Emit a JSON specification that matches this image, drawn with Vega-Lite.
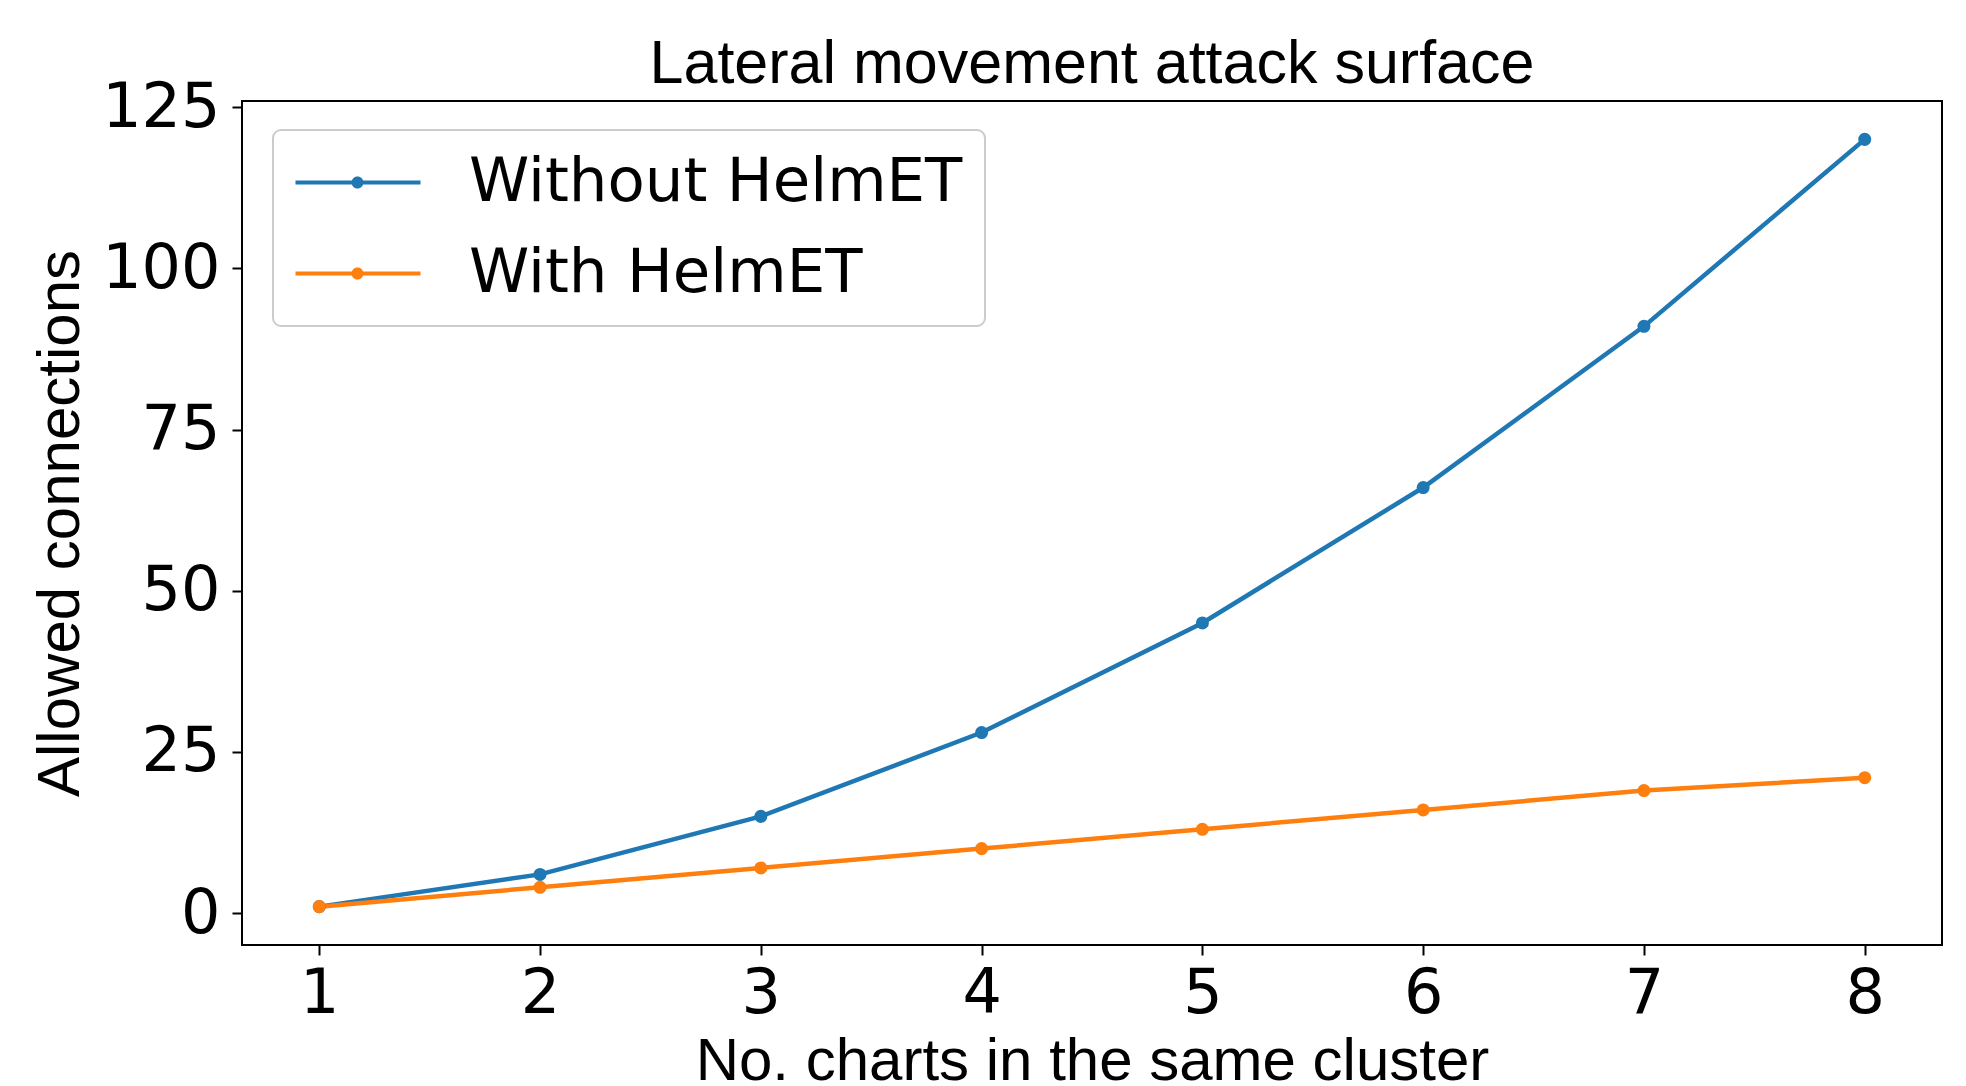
{
  "$schema": "https://vega.github.io/schema/vega-lite/v6.json",
  "autosize": {"type": "none"},
  "padding": {"left": 242, "top": 101, "right": 24, "bottom": 141},
  "width": 1700,
  "height": 844,
  "background": "white",
  "title": {
    "text": "Lateral movement attack surface",
    "font": "Liberation Sans",
    "fontSize": 61,
    "fontWeight": "normal",
    "color": "black",
    "anchor": "middle",
    "offset": -20
  },
  "config": {
    "view": {"stroke": "black", "strokeWidth": 2},
    "axis": {
      "domain": false,
      "grid": false,
      "tickColor": "black",
      "tickWidth": 2,
      "tickSize": 10,
      "labelFont": "DejaVu Sans",
      "labelFontSize": 62,
      "labelColor": "black",
      "titleFont": "Liberation Sans",
      "titleFontSize": 60,
      "titleFontWeight": "normal",
      "titleColor": "black"
    },
    "legend": {
      "strokeColor": "#cccccc",
      "strokeWidth": 2,
      "fillColor": "white",
      "cornerRadius": 8,
      "padding": 22
    }
  },
  "data": {
    "values": [
      {"n": 1, "series": "Without HelmET", "value": 1},
      {"n": 2, "series": "Without HelmET", "value": 6},
      {"n": 3, "series": "Without HelmET", "value": 15},
      {"n": 4, "series": "Without HelmET", "value": 28},
      {"n": 5, "series": "Without HelmET", "value": 45},
      {"n": 6, "series": "Without HelmET", "value": 66},
      {"n": 7, "series": "Without HelmET", "value": 91},
      {"n": 8, "series": "Without HelmET", "value": 120},
      {"n": 1, "series": "With HelmET", "value": 1},
      {"n": 2, "series": "With HelmET", "value": 4},
      {"n": 3, "series": "With HelmET", "value": 7},
      {"n": 4, "series": "With HelmET", "value": 10},
      {"n": 5, "series": "With HelmET", "value": 13},
      {"n": 6, "series": "With HelmET", "value": 16},
      {"n": 7, "series": "With HelmET", "value": 19},
      {"n": 8, "series": "With HelmET", "value": 21}
    ]
  },
  "encoding": {
    "x": {
      "field": "n",
      "type": "quantitative",
      "scale": {"domain": [0.65, 8.35], "nice": false, "zero": false},
      "axis": {
        "title": "No. charts in the same cluster",
        "values": [1, 2, 3, 4, 5, 6, 7, 8],
        "format": "d",
        "labelPadding": 8,
        "titlePadding": 8
      }
    },
    "y": {
      "field": "value",
      "type": "quantitative",
      "scale": {"domain": [-4.95, 125.95], "nice": false, "zero": false},
      "axis": {
        "title": "Allowed connections",
        "values": [0, 25, 50, 75, 100, 125],
        "format": "d",
        "labelPadding": 12,
        "titlePadding": 10
      }
    },
    "color": {
      "field": "series",
      "type": "nominal",
      "scale": {"domain": ["Without HelmET", "With HelmET"], "range": ["#1f77b4", "#ff7f0e"]},
      "legend": {
        "title": null,
        "orient": "none",
        "legendX": 31,
        "legendY": 29,
        "symbolType": "M-62,-2H63V2H-62Z M-6,0A6,6,0,1,1,6,0A6,6,0,1,1,-6,0Z",
        "symbolSize": 4,
        "symbolOffset": 32,
        "symbolStrokeWidth": 0,
        "labelOffset": 81,
        "labelFont": "DejaVu Sans",
        "labelFontSize": 61,
        "labelColor": "black",
        "labelLimit": 800,
        "rowPadding": 29,
        "encode": {
          "symbols": {
            "update": {
              "fill": {"signal": "scale('color', datum.value)"},
              "stroke": {"value": "transparent"},
              "opacity": {"value": 1}
            }
          }
        }
      }
    }
  },
  "layer": [
    {"mark": {"type": "line", "strokeWidth": 4.5}},
    {"mark": {"type": "point", "filled": true, "size": 170, "opacity": 1}}
  ]
}
